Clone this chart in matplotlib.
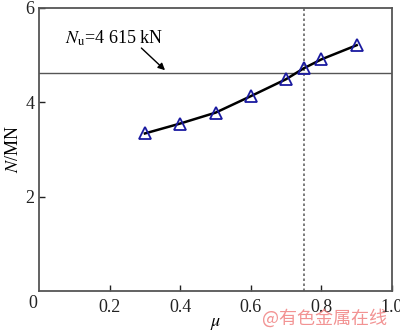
import matplotlib
matplotlib.use("Agg")
import matplotlib.pyplot as plt

mu = [0.3, 0.4, 0.5, 0.6, 0.7, 0.75, 0.8, 0.9]
N = [3.34, 3.55, 3.78, 4.13, 4.49, 4.72, 4.91, 5.21]
Nu = 4.615
mu_v = 0.75
xticks = [0.2, 0.4, 0.6, 0.8, 1.0]
yticks = [2, 4, 6]

plt.rcParams['font.family'] = ['Liberation Serif', 'DejaVu Serif']
plt.rcParams['mathtext.fontset'] = 'stix'

fig = plt.figure(figsize=(4, 3.3), dpi=100)
ax = fig.add_axes([0.0975, 0.118, 0.8825, 0.858])
ax.plot(mu, N, color='black', lw=1.8, marker='^', ms=8, mfc='none',
        mec='#1a1aa0', mew=1.3, zorder=3)
ax.axhline(Nu, color='#555555', lw=1.0)
ax.axvline(mu_v, color='#666666', lw=1.2, ls=(0, (1.5, 1.5)))
ax.set_xlim(0, 1.0)
ax.set_ylim(0, 6)
ax.set_xticks(xticks)
ax.set_xticklabels(['0.2', '0.4', '0.6', '0.8', '1.0'])
ax.set_yticks(yticks)
ax.tick_params(direction='in', length=4, width=1, labelsize=13, colors='#222222')
ax.tick_params(axis='x', pad=6)
for s in ax.spines.values():
    s.set_color('#555555')
    s.set_linewidth(1.3)
ax.text(-0.005, -0.015, '0', transform=ax.transAxes, ha='right', va='top', fontsize=13, color='#222222')
ax.set_ylabel(r'$N$/MN', fontsize=13, labelpad=2)
ax.set_xlabel(r'$\mu$', fontsize=13, labelpad=-1)
ax.text(0.074, 5.36, r'$N_{\mathrm{u}}$=4 615 kN', fontsize=13, va='center', ha='left')
ax.annotate('', xy=(0.357, 4.68), xytext=(0.29, 5.15),
            arrowprops=dict(arrowstyle='-|>', color='black', lw=1.0, mutation_scale=10,
                            shrinkA=0, shrinkB=0))
fig.text(0.655, 0.02, '@有色金属在线', fontsize=13, color='#f08080', alpha=0.85,
         family=['Noto Sans CJK SC', 'DejaVu Sans'])
fig.savefig('out.png', dpi=100)
